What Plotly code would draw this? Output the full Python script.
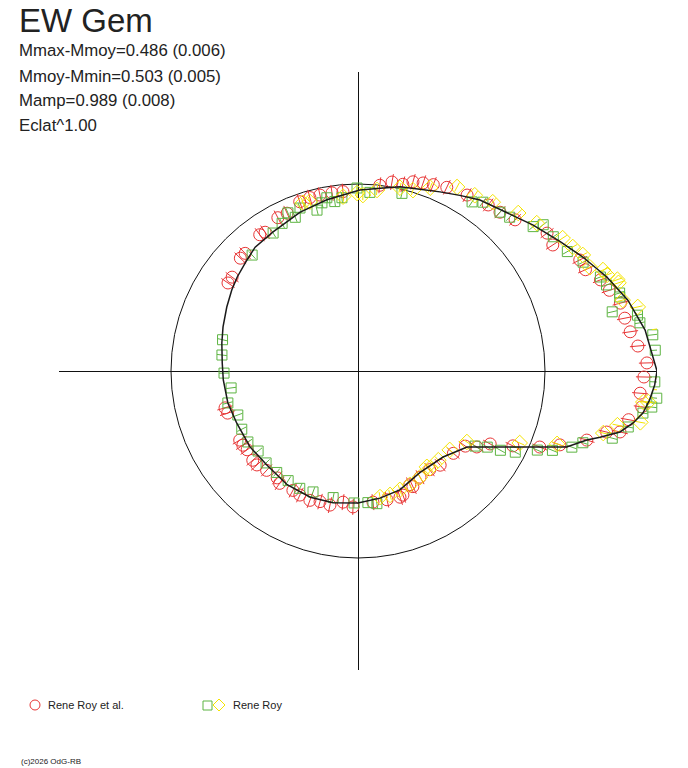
import numpy as np
import plotly.graph_objects as go

# figure / plot area in pixels (page has an 8px body margin)
OFFSET = 8
W, H = 680, 760
L, T, PW, PH = 51, 64, 598, 598

REF_RADIUS = 187  # mean-magnitude circle

# fitted curve (angle in degrees, radius)
fit_angle = [0, 8.1, 14.7, 20.7, 26.9, 32.6, 39.8, 48.6, 54.5, 59.9, 65.4, 71.2,
             77.1, 83.1, 89.4, 100.3, 110.0, 121.4, 129.7, 135.0, 142.2, 147.3,
             154.0, 161.9, 168.4, 176.6, 183.8, 193.8, 203.3, 215.1, 225.9, 238.1,
             249.3, 259.3, 270.0, 279.8, 289.4, 301.3, 314.7, 325.1, 334.9, 340.0,
             343.2, 344.7, 346.9, 349.3, 351.6, 354.3, 357.3, 360.0]
fit_radius = [299, 290, 279, 266, 252, 240, 228, 215, 210, 203, 197, 192,
              189, 184, 181, 174, 169, 163, 161, 157, 153, 150,
              146, 142, 139, 136, 135, 134, 132, 132, 131, 134,
              135, 134, 132, 129, 126, 119, 121, 133, 179, 222,
              239, 251, 269, 280, 288, 293, 297, 299]

# Rene Roy et al.
red_angle = [145.9, 143.3, 136.2, 133.8, 125.8, 123.8, 117.6, 114.2, 109.0, 105.5,
             102.2, 98.3, 94.8, 83.3, 79.8, 76.5, 73.8, 70.9, 68.0,
             64.2, 58.2, 51.9, 48.2, 43.9, 36.1, 32.9, 26.6, 24.0, 20.6, 17.8, 14.5,
             11.2, 8.2, 5.1, 1.6, -1.2, -4.5, -7.2, -10.2, -13.1,
             -13.8, -16.8, -20.1, -22.7, -25.8, -28.9, -32.6, -35.0, -40.8, -48.9,
             -54.0, -59.7, -65.5, -70.1,
             -64.6, -71.6, -77.3, -83.5, -92.1, -96.5, -101.8, -106.2, -110.4, -115.1,
             -118.6, -124.9, -127.1, -132.6, -137.1, -139.7, -144.6, -147.2, -149.7,
             -162.1, -164.5]
red_radius = [157, 157, 163, 163, 168, 167, 173, 173, 179, 180,
              180, 180, 180, 187, 192, 192, 197, 199, 201,
              204, 207, 211, 213, 218, 234, 232, 248, 249, 259, 264, 271,
              272, 275, 281, 289, 286, 283, 286, 275, 269,
              256, 239, 215, 197, 172, 151, 141, 131, 126, 125,
              122, 123, 125, 132,
              128, 133, 132, 132, 136, 132, 137, 136, 138, 137,
              136, 137, 134, 135, 138, 138, 136, 137, 137,
              137, 138]

# Rene Roy (squares)
green_angle = [-179.1, -172.4, -166.2, -159.9, -153.4, -147.2, -141.3, -135.0, -128.7,
               -122.5, -116.4, -110.4, -101.1, -91.7, -85.7, -81.9,
               173.3, 167.0,
               132.4, 121.6, 117.2, 113.9, 112.2, 109.6, 104.3, 102.1, 100.2, 97.8,
               95.3, 90.3, 86.2, 76.1,
               56.0, 53.5, 48.2, 45.4, 39.5, 38.3, 34.5, 29.7, 25.8, 21.2, 19.1, 15.8,
               13.1, 16.6, 11.3, 9.7, 7.0, 4.0, 0.6, -2.1, -5.2, -7.0, -8.4, -11.7,
               -14.8, -17.7, -19.6,
               -22.2, -23.8, -27.3, -29.1, -30.5, -32.7]
green_radius = [134, 128, 134, 128, 130, 131, 128, 130, 130,
                130, 131, 129, 129, 132, 132, 134,
                137, 139,
                157, 162, 166, 173, 166, 173, 166, 172, 176, 171,
                174, 183, 179, 183,
                204, 210, 213, 216, 227, 236, 237, 241, 250, 260, 263, 272,
                261, 273, 285, 286, 297, 298, 305, 297, 300, 296, 288, 276,
                263, 236, 227,
                210, 196, 177, 163, 150, 139]

# Rene Roy (diamonds)
yellow_angle = [-80.1, -75.5, -70.6, -65.5, -59.7, -53.4, -48.0,
                -54.3, -40.7, -33.1, -24.0, -20.1, -14.2, -11.8, -10.3, -6.1,
                4.5, 2.1, -1.3, -3.6, -6.2, 12.9, 15.0, 18.7, 21.1, 24.1, 27.3, 8.0,
                61.7, 56.4, 51.4, 44.6, 39.6, 33.0, 30.0, 22.4, 19.4,
                94.9, 90.3, 88.4, 84.0, 77.1, 73.1, 68.5, 108.1, 105.9]
yellow_radius = [128, 128, 126, 125, 123, 121, 120,
                 118, 121, 130, 177, 212, 253, 265, 287, 292,
                 305, 305, 302, 301, 287, 287, 274, 275, 267, 254, 253, 302,
                 209, 211, 216, 225, 232, 244, 248, 265, 275,
                 175, 178, 176, 182, 188, 189, 197, 177, 176]

RED, GREEN, YELLOW = "#e83535", "#5db442", "#f5e400"


def to_xy(angle, radius):
    a = np.radians(angle)
    r = np.asarray(radius, dtype=float)
    return r * np.cos(a), r * np.sin(a)


def error_segments(angle, radius, err):
    xs, ys = [], []
    for a, r in zip(angle, radius):
        t = np.radians(a)
        for rr in (r - err, r + err):
            xs.append(rr * np.cos(t))
            ys.append(rr * np.sin(t))
        xs.append(None)
        ys.append(None)
    return xs, ys


def px_x(px):
    return (px - OFFSET - L) / PW


def px_y(py):
    return 1 - (py - OFFSET - T) / PH


fig = go.Figure()

series = [
    (red_angle, red_radius, RED, "circle-open", 12, 8),
    (green_angle, green_radius, GREEN, "square-open", 10, 5),
    (yellow_angle, yellow_radius, YELLOW, "diamond-open", 12, 5),
]
for ang, rad, col, sym, size, err in series:
    ex, ey = error_segments(ang, rad, err)
    fig.add_trace(go.Scatter(x=ex, y=ey, mode="lines",
                             line=dict(color=col, width=1), hoverinfo="skip"))
    x, y = to_xy(ang, rad)
    fig.add_trace(go.Scatter(x=x, y=y, mode="markers", cliponaxis=False,
                             marker=dict(symbol=sym, size=size, color=col,
                                         line=dict(color=col, width=1))))

fx, fy = to_xy(fit_angle, fit_radius)
fig.add_trace(go.Scatter(x=fx, y=fy, mode="lines",
                         line=dict(color="#1a1a1a", width=1.5)))

fig.add_shape(type="circle", xref="x", yref="y",
              x0=-REF_RADIUS, x1=REF_RADIUS, y0=-REF_RADIUS, y1=REF_RADIUS,
              line=dict(color="#111", width=1), layer="below")

# header texts
font = "Liberation Sans, Arial, sans-serif"
fig.add_annotation(text="EW Gem", xref="paper", yref="paper",
                   x=px_x(17), y=px_y(21), xanchor="left", yanchor="middle",
                   showarrow=False, font=dict(family=font, size=33, color="#222"))
stats = ["Mmax-Mmoy=0.486 (0.006)", "Mmoy-Mmin=0.503 (0.005)",
         "Mamp=0.989 (0.008)", "Eclat^1.00"]
for i, s in enumerate(stats):
    fig.add_annotation(text=s, xref="paper", yref="paper",
                       x=px_x(17), y=px_y(51 + 25 * i), xanchor="left", yanchor="middle",
                       showarrow=False, font=dict(family=font, size=16.8, color="#222"))

# legend
fig.add_shape(type="circle", xref="paper", yref="paper",
              x0=px_x(30), x1=px_x(40), y0=px_y(700), y1=px_y(710),
              line=dict(color=RED, width=1))
fig.add_shape(type="rect", xref="paper", yref="paper",
              x0=px_x(203), x1=px_x(212), y0=px_y(701), y1=px_y(710),
              line=dict(color=GREEN, width=1))
dpath = "M {} {} L {} {} L {} {} L {} {} Z".format(
    px_x(219), px_y(699), px_x(225), px_y(705), px_x(219), px_y(711), px_x(213), px_y(705))
fig.add_shape(type="path", xref="paper", yref="paper", path=dpath,
              line=dict(color=YELLOW, width=1))
for txt, xpos in [("Rene Roy et al.", 46), ("Rene Roy", 231)]:
    fig.add_annotation(text=txt, xref="paper", yref="paper",
                       x=px_x(xpos), y=px_y(705), xanchor="left", yanchor="middle",
                       showarrow=False, font=dict(family=font, size=11, color="#222"))
fig.add_annotation(text="(c)2026 OdG-RB", xref="paper", yref="paper",
                   x=px_x(19), y=px_y(762), xanchor="left", yanchor="middle",
                   showarrow=False, font=dict(family=font, size=8, color="#222"))

axis = dict(range=[-299, 299], showgrid=False, showticklabels=False, ticks="",
            zeroline=True, zerolinecolor="#111", zerolinewidth=1, showline=False,
            fixedrange=True)
fig.update_layout(
    width=W, height=H, autosize=False,
    margin=dict(l=L, r=W - L - PW, t=T, b=H - T - PH),
    xaxis=axis, yaxis=axis,
    showlegend=False,
    plot_bgcolor="white", paper_bgcolor="white",
)

fig.write_html("out.html")
